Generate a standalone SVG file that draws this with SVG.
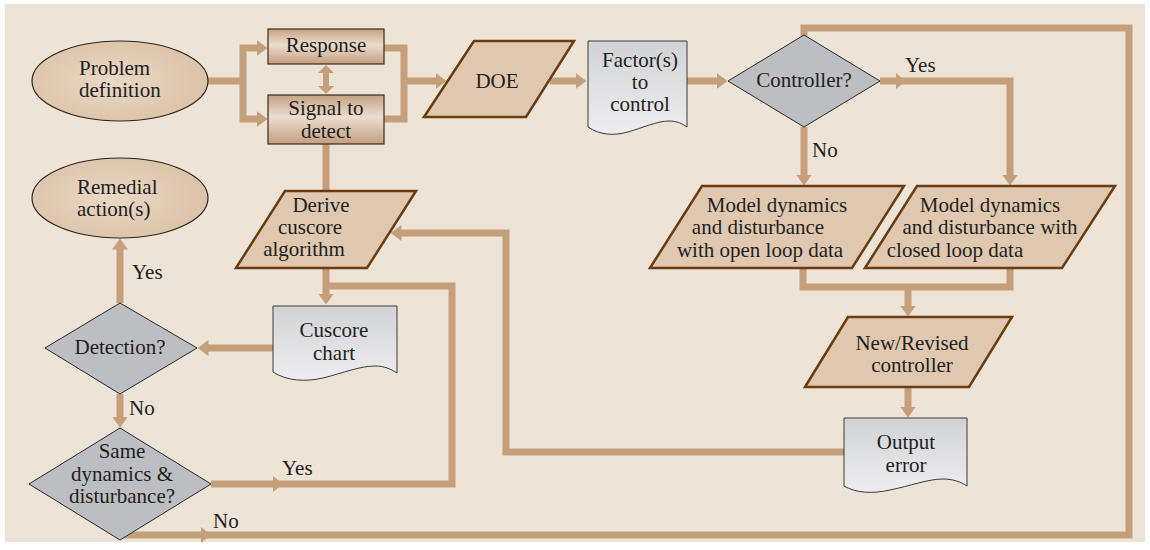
<svg xmlns="http://www.w3.org/2000/svg" xmlns:xlink="http://www.w3.org/1999/xlink" width="1150" height="550" viewBox="0 0 1150 550">
  <defs>
    <linearGradient id="boxGrad" x1="0" y1="0" x2="0" y2="1">
      <stop offset="0" stop-color="#C5A284"/>
      <stop offset="0.45" stop-color="#ECDDCF"/>
      <stop offset="1" stop-color="#C29E80"/>
    </linearGradient>
    <linearGradient id="docGrad" x1="0" y1="0" x2="0" y2="1">
      <stop offset="0" stop-color="#D1D2D5"/>
      <stop offset="1" stop-color="#EEEEF0"/>
    </linearGradient>
    <radialGradient id="ovalGrad" cx="0.45" cy="0.5" r="0.6">
      <stop offset="0" stop-color="#E9D9C8"/>
      <stop offset="1" stop-color="#DBC1A5"/>
    </radialGradient>
    <marker id="ah" viewBox="0 0 11 16" markerWidth="11" markerHeight="16" refX="0.5" refY="8" orient="auto" markerUnits="userSpaceOnUse">
      <path d="M0,0 L11,8 L0,16 Z" fill="#C49F7A"/>
    </marker>
    <path id="mid" d="M-5,-8 L5,0 L-5,8 Z"/>
    <style>
      .bg { fill: #EEE3D7; }
      .wire { fill: none; stroke: #C49F7A; stroke-width: 7; stroke-linejoin: miter; stroke-linecap: butt; }
      .arrow { marker-end: url(#ah); }
      .midarrow { fill: #C49F7A; }
      .oval { fill: url(#ovalGrad); stroke: #2B2622; stroke-width: 1.2; }
      .box { fill: url(#boxGrad); stroke: #3B2A1E; stroke-width: 1.2; }
      .para { fill: #DFC8AF; stroke: #6B3C0F; stroke-width: 2.5; stroke-linejoin: miter; }
      .dia { fill: #BDBEC1; stroke: #2A2A2A; stroke-width: 1; }
      .doc { fill: url(#docGrad); stroke: #3A3A3A; stroke-width: 1; }
      text { font-family: "Liberation Serif", "Times New Roman", serif; font-size: 21px; fill: #231F20; }
      .c { text-anchor: middle; }
    </style>
  </defs>

  <rect width="1150" height="550" fill="#FFFFFF"/>
  <rect class="bg" x="5" y="4" width="1140" height="538"/>

  <!-- flow lines -->
  <g id="connectors">
    <path class="wire" d="M208,81 H243"/>
    <path class="wire arrow" d="M243,81 V48 H257"/>
    <path class="wire arrow" d="M243,81 V119 H257"/>
    <path class="wire" d="M384,48 H404 V119 H384"/>
    <path class="wire arrow" d="M404,81 H436"/>
    <polygon class="midarrow" points="326,65 334,73 329,73 329,86 334,86 326,94 318,86 323,86 323,73 318,73"/>
    <path class="wire arrow" d="M550,81 H576"/>
    <path class="wire arrow" d="M687,81 H717"/>
    <path class="wire arrow" d="M880,81 H1010 V175"/>
    <use href="#mid" class="midarrow" x="901" y="81"/>
    <path class="wire arrow" d="M804,127 V175"/>
    <path class="wire" d="M803,268 V287 H1010 V268"/>
    <path class="wire arrow" d="M908,287 V306"/>
    <path class="wire arrow" d="M908,387 V407"/>
    <path class="wire arrow" d="M844,452 H506 V233 H401"/>
    <path class="wire" d="M326,144 V191"/>
    <path class="wire arrow" d="M326,268 V294"/>
    <path class="wire" d="M211,484 H452 V286 H326"/>
    <use href="#mid" class="midarrow" x="278" y="484"/>
    <path class="wire arrow" d="M273,348 H208"/>
    <path class="wire arrow" d="M120,303 V249"/>
    <path class="wire arrow" d="M120,394 V417"/>
    <path class="wire" d="M120,535 H1129 V28 H804 V36"/>
    <use href="#mid" class="midarrow" x="206" y="535"/>
  </g>

  <!-- branch labels -->
  <g id="labels">
    <text x="905" y="72">Yes</text>
    <text x="812" y="157">No</text>
    <text x="132" y="279">Yes</text>
    <text x="129" y="415">No</text>
    <text x="282" y="475">Yes</text>
    <text x="213" y="528">No</text>
  </g>

  <g id="problem-definition">
    <ellipse class="oval" cx="120" cy="81" rx="88" ry="40"/>
    <text x="79" y="75">Problem</text>
    <text x="79" y="97">definition</text>
  </g>

  <g id="response">
    <rect class="box" x="268" y="29" width="116" height="35"/>
    <text class="c" x="326" y="52">Response</text>
  </g>

  <g id="signal-to-detect">
    <rect class="box" x="268" y="95" width="116" height="49"/>
    <text class="c" x="326" y="115">Signal to</text>
    <text class="c" x="326" y="138">detect</text>
  </g>

  <g id="doe">
    <polygon class="para" points="424,117 474,41 574,41 526,117"/>
    <text class="c" x="497" y="88">DOE</text>
  </g>

  <g id="factors-to-control">
    <path class="doc" d="M588,41 H687 V127 C683,124 677,121 669,121 C657,121 642,128 628,132 C613,136 600,135 588,127 Z"/>
    <text class="c" x="640" y="67">Factor(s)</text>
    <text class="c" x="640" y="89">to</text>
    <text class="c" x="640" y="111">control</text>
  </g>

  <g id="controller">
    <polygon class="dia" points="728,81 804,35 880,81 804,127"/>
    <text class="c" x="804" y="87">Controller?</text>
  </g>

  <g id="model-open-loop">
    <polygon class="para" points="650,268 702,186 904,186 852,268"/>
    <text class="c" x="777" y="212">Model dynamics</text>
    <text class="c" x="758" y="234">and disturbance</text>
    <text class="c" x="760" y="257">with open loop data</text>
  </g>

  <g id="model-closed-loop">
    <polygon class="para" points="865,268 917,186 1115,186 1062,268"/>
    <text class="c" x="990" y="212">Model dynamics</text>
    <text class="c" x="990" y="234">and disturbance with</text>
    <text class="c" x="955" y="257">closed loop data</text>
  </g>

  <g id="new-revised-controller">
    <polygon class="para" points="805,387 848,317 1012,317 969,387"/>
    <text class="c" x="912" y="350">New/Revised</text>
    <text class="c" x="912" y="372">controller</text>
  </g>

  <g id="output-error">
    <path class="doc" d="M844,418 H967 V486 C961,482 953,479 943,479 C928,479 910,486 890,490 C872,494 856,493 844,486 Z"/>
    <text class="c" x="906" y="449">Output</text>
    <text class="c" x="906" y="472">error</text>
  </g>

  <g id="derive-cuscore">
    <polygon class="para" points="236,268 285,191 416,191 367,268"/>
    <text class="c" x="321" y="212">Derive</text>
    <text class="c" x="310" y="234">cuscore</text>
    <text class="c" x="304" y="256">algorithm</text>
  </g>

  <g id="cuscore-chart">
    <path class="doc" d="M273,306 H397 V373 C391,369 384,366 375,366 C360,366 343,373 323,378 C305,382 287,381 273,372 Z"/>
    <text class="c" x="334" y="337">Cuscore</text>
    <text class="c" x="334" y="360">chart</text>
  </g>

  <g id="remedial-action">
    <ellipse class="oval" cx="120" cy="198" rx="88" ry="40"/>
    <text x="77" y="194">Remedial</text>
    <text x="77" y="216">action(s)</text>
  </g>

  <g id="detection">
    <polygon class="dia" points="45,348 120,303 197,348 120,394"/>
    <text class="c" x="120" y="354">Detection?</text>
  </g>

  <g id="same-dynamics">
    <polygon class="dia" points="29,484 120,428 211,484 120,540"/>
    <text class="c" x="122" y="458">Same</text>
    <text class="c" x="122" y="481">dynamics &amp;</text>
    <text class="c" x="122" y="503">disturbance?</text>
  </g>
</svg>
